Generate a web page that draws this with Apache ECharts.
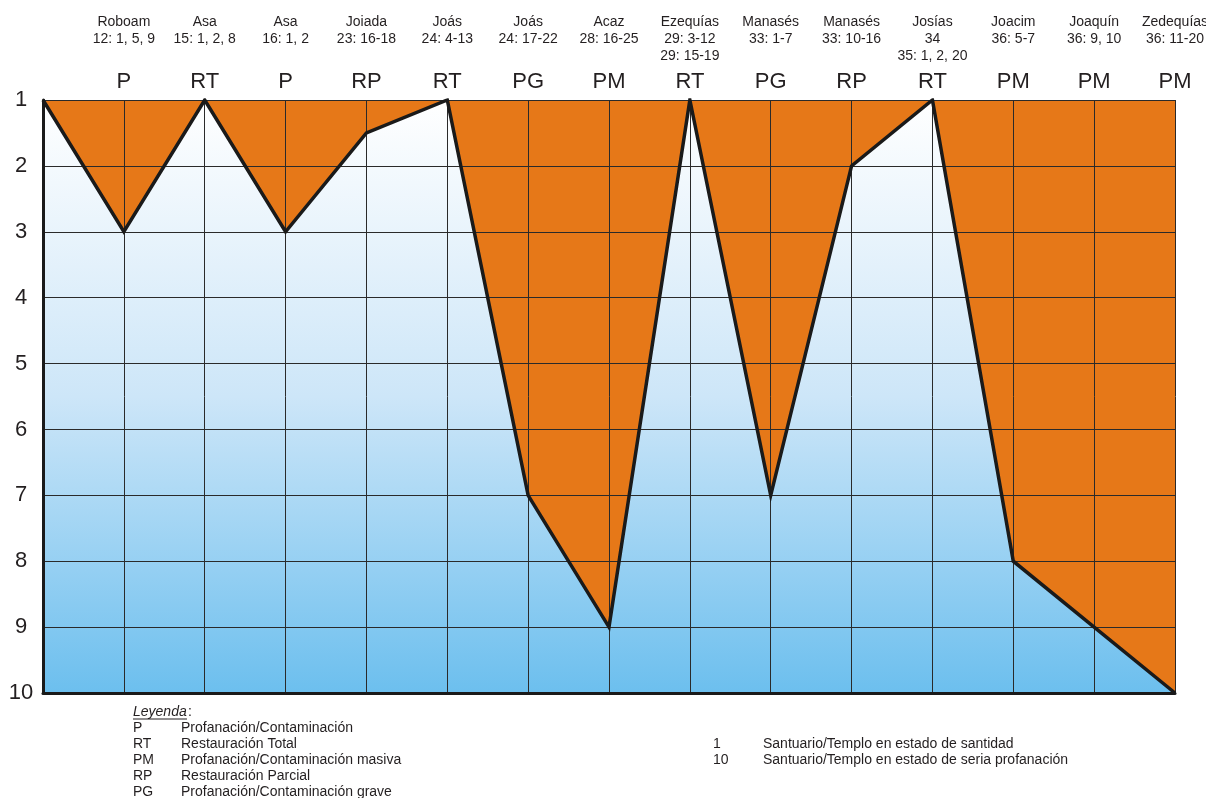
<!DOCTYPE html>
<html>
<head>
<meta charset="utf-8">
<script src="https://cdn.jsdelivr.net/npm/echarts@6/dist/echarts.min.js"></script>
<style>
  html, body { margin: 0; padding: 0; background: #fff; }
  #chart { width: 1206px; height: 798px; }
</style>
</head>
<body>
<div id="chart"></div>
<script>
var reyes = ['', 'Roboam', 'Asa', 'Asa', 'Joiada', 'Joás', 'Joás', 'Acaz', 'Ezequías', 'Manasés', 'Manasés', 'Josías', 'Joacim', 'Joaquín', 'Zedequías'];
var citas1 = ['', '12: 1, 5, 9', '15: 1, 2, 8', '16: 1, 2', '23: 16-18', '24: 4-13', '24: 17-22', '28: 16-25', '29: 3-12', '33: 1-7', '33: 10-16', '34', '36: 5-7', '36: 9, 10', '36: 11-20'];
var citas2 = ['', '', '', '', '', '', '', '', '29: 15-19', '', '', '35: 1, 2, 20', '', '', ''];
var codigos = ['', 'P', 'RT', 'P', 'RP', 'RT', 'PG', 'PM', 'RT', 'PG', 'RP', 'RT', 'PM', 'PM', 'PM'];
var estado = [1, 3, 1, 3, 1.5, 1, 7, 9, 1, 7, 2, 1, 8, 9, 10];
var yTicks = [1, 2, 3, 4, 5, 6, 7, 8, 9, 10];

var leyenda = [
  ['P', 'Profanación/Contaminación'],
  ['RT', 'Restauración Total'],
  ['PM', 'Profanación/Contaminación masiva'],
  ['RP', 'Restauración Parcial'],
  ['PG', 'Profanación/Contaminación grave']
];
var escala = [
  ['1', 'Santuario/Templo en estado de santidad'],
  ['10', 'Santuario/Templo en estado de seria profanación']
];

var FONT = '"Liberation Sans", Arial, sans-serif';
var TXT = '#231f20';

var myChart = echarts.init(document.getElementById('chart'));
var option;

var graficos = [
  { type: 'text', left: 133, top: 705, style: { text: 'Leyenda', font: 'italic 14px ' + FONT, fill: TXT } },
  { type: 'text', left: 188, top: 705, style: { text: ':', font: '14px ' + FONT, fill: TXT } },
  { type: 'line', shape: { x1: 133, y1: 719, x2: 187, y2: 719 }, style: { stroke: TXT, lineWidth: 1 } }
];
leyenda.forEach(function (l, i) {
  graficos.push({ type: 'text', left: 133, top: 721 + i * 16, style: { text: l[0], font: '14px ' + FONT, fill: TXT } });
  graficos.push({ type: 'text', left: 181, top: 721 + i * 16, style: { text: l[1], font: '14px ' + FONT, fill: TXT } });
});
escala.forEach(function (l, i) {
  graficos.push({ type: 'text', left: 713, top: 737 + i * 16, style: { text: l[0], font: '14px ' + FONT, fill: TXT } });
  graficos.push({ type: 'text', left: 763, top: 737 + i * 16, style: { text: l[1], font: '14px ' + FONT, fill: TXT } });
});

option = {
  backgroundColor: '#fff',
  textStyle: { fontFamily: FONT },
  grid: {
    left: 43, right: 31, top: 100, bottom: 105,
    outerBoundsMode: 'none',
    containLabel: false,
    show: true,
    borderWidth: 0,
    backgroundColor: new echarts.graphic.LinearGradient(0, 0, 0, 1, [
      { offset: 0, color: '#ffffff' },
      { offset: 0.5, color: '#cde6f8' },
      { offset: 1, color: '#6cbfee' }
    ])
  },
  xAxis: [
    {
      type: 'category',
      position: 'top',
      boundaryGap: false,
      data: reyes,
      z: 2,
      axisLine: { show: false },
      axisTick: { show: false },
      splitLine: { show: true, interval: 0, lineStyle: { color: '#2a2a2a', width: 1 } },
      axisLabel: {
        interval: 0,
        margin: 1,
        color: TXT,
        formatter: function (v, i) {
          if (!reyes[i]) return '';
          return '{n|' + reyes[i] + '}\n{n|' + citas1[i] + '}\n{n|' + (citas2[i] || ' ') + '}\n{c|' + codigos[i] + '}';
        },
        rich: {
          n: { fontSize: 14, lineHeight: 17, color: TXT, fontFamily: FONT },
          c: { fontSize: 22, lineHeight: 34, color: TXT, fontFamily: FONT }
        }
      }
    },
    {
      type: 'category',
      position: 'bottom',
      boundaryGap: false,
      data: reyes,
      z: 4,
      axisLine: { show: true, lineStyle: { color: '#1a1a1a', width: 3 } },
      axisTick: { show: false },
      axisLabel: { show: false },
      splitLine: { show: false }
    }
  ],
  yAxis: {
    type: 'value',
    inverse: true,
    min: 1,
    max: 10,
    interval: 1,
    z: 2,
    axisLine: { show: true, lineStyle: { color: '#1a1a1a', width: 3 } },
    axisTick: { show: false },
    axisLabel: {
      margin: 22,
      align: 'center',
      fontSize: 22,
      color: TXT,
      formatter: function (v) { return yTicks.indexOf(v) >= 0 ? String(v) : ''; }
    },
    splitLine: { show: true, lineStyle: { color: '#2a2a2a', width: 1 } }
  },
  series: [
    {
      name: 'profanación',
      type: 'line',
      data: estado,
      z: 1,
      symbol: 'none',
      silent: true,
      lineStyle: { width: 0 },
      areaStyle: { origin: 'start', color: '#e67818', opacity: 1 }
    },
    {
      name: 'estado',
      type: 'line',
      data: estado,
      z: 3,
      symbol: 'none',
      lineStyle: { color: '#1a1a1a', width: 3.5, join: 'miter' }
    }
  ],
  graphic: graficos
};

option && myChart.setOption(option);
</script>
</body>
</html>
